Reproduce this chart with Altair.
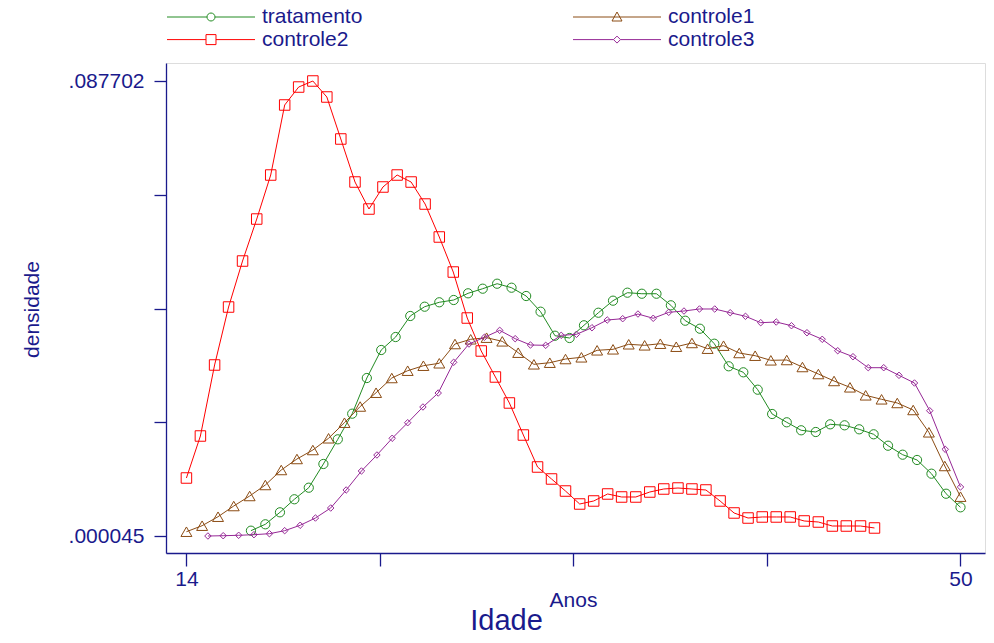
import altair as alt
import pandas as pd

# ---------------- data ----------------
# order as listed in the legend (column by column)
series_names = ["tratamento", "controle2", "controle1", "controle3"]
series_colors = ["#228b22", "#ff0000", "#8b4c14", "#962896"]

x_tratamento = [17.00, 17.67, 18.35, 19.02, 19.69, 20.37, 21.04, 21.71, 22.39, 23.06,
                23.73, 24.41, 25.08, 25.76, 26.43, 27.10, 27.78, 28.45, 29.12, 29.80,
                30.47, 31.14, 31.82, 32.49, 33.16, 33.84, 34.51, 35.18, 35.86, 36.53,
                37.20, 37.88, 38.55, 39.22, 39.90, 40.57, 41.24, 41.92, 42.59, 43.27,
                43.94, 44.61, 45.29, 45.96, 46.63, 47.31, 47.98, 48.65, 49.33, 50.00]
y_tratamento = [0.00107, 0.00230, 0.00461, 0.00712, 0.00935, 0.01392, 0.01867, 0.02361, 0.03048, 0.03588,
                0.03838, 0.04243, 0.04422, 0.04507, 0.04551, 0.04680, 0.04769, 0.04865, 0.04788, 0.04628,
                0.04326, 0.03863, 0.03819, 0.04064, 0.04306, 0.04538, 0.04692, 0.04672, 0.04672, 0.04449,
                0.04152, 0.03998, 0.03709, 0.03274, 0.03158, 0.02823, 0.02355, 0.02195, 0.02041, 0.02008,
                0.02156, 0.02137, 0.02060, 0.01964, 0.01744, 0.01571, 0.01469, 0.01205, 0.00819, 0.00557]

x_controle1 = [14.00, 14.73, 15.47, 16.20, 16.94, 17.67, 18.41, 19.14, 19.88, 20.61,
               21.35, 22.08, 22.82, 23.55, 24.29, 25.02, 25.76, 26.49, 27.22, 27.96,
               28.69, 29.43, 30.16, 30.90, 31.63, 32.37, 33.10, 33.84, 34.57, 35.31,
               36.04, 36.78, 37.51, 38.24, 38.98, 39.71, 40.45, 41.18, 41.92, 42.65,
               43.39, 44.12, 44.86, 45.59, 46.33, 47.06, 47.80, 48.53, 49.27, 50.00]
y_controle1 = [0.00087, 0.00203, 0.00376, 0.00582, 0.00775, 0.00987, 0.01276, 0.01488, 0.01661, 0.01887,
               0.02187, 0.02499, 0.02765, 0.03048, 0.03189, 0.03285, 0.03332, 0.03703, 0.03794, 0.03825,
               0.03755, 0.03536, 0.03312, 0.03343, 0.03414, 0.03447, 0.03582, 0.03601, 0.03698, 0.03678,
               0.03709, 0.03651, 0.03723, 0.03613, 0.03671, 0.03530, 0.03478, 0.03389, 0.03395, 0.03260,
               0.03125, 0.02991, 0.02869, 0.02715, 0.02638, 0.02567, 0.02432, 0.02002, 0.01353, 0.00762]

x_controle2 = [14.00, 14.65, 15.31, 15.96, 16.61, 17.27, 17.92, 18.57, 19.22, 19.88,
               20.53, 21.18, 21.84, 22.49, 23.14, 23.80, 24.45, 25.10, 25.76, 26.41,
               27.06, 27.71, 28.37, 29.02, 29.67, 30.33, 30.98, 31.63, 32.29, 32.94,
               33.59, 34.24, 34.90, 35.55, 36.20, 36.86, 37.51, 38.16, 38.82, 39.47,
               40.12, 40.78, 41.43, 42.08, 42.73, 43.39, 44.04, 44.69, 45.35, 46.00]
y_controle2 = [0.01122, 0.01931, 0.03299, 0.04416, 0.05302, 0.06111, 0.06959, 0.08308, 0.08654, 0.087702,
               0.08462, 0.07653, 0.06824, 0.06304, 0.06728, 0.06959, 0.06824, 0.06400, 0.05765, 0.05090,
               0.04204, 0.03569, 0.03068, 0.02567, 0.01950, 0.01334, 0.01103, 0.00871, 0.00621, 0.00679,
               0.00814, 0.00756, 0.00756, 0.00852, 0.00910, 0.00929, 0.00910, 0.00891, 0.00679, 0.00448,
               0.00351, 0.00371, 0.00371, 0.00371, 0.00294, 0.00274, 0.00197, 0.00197, 0.00197, 0.00159]

x_controle3 = [15.00, 15.71, 16.43, 17.14, 17.86, 18.57, 19.29, 20.00, 20.71, 21.43,
               22.14, 22.86, 23.57, 24.29, 25.00, 25.71, 26.43, 27.14, 27.86, 28.57,
               29.29, 30.00, 30.71, 31.43, 32.14, 32.86, 33.57, 34.29, 35.00, 35.71,
               36.43, 37.14, 37.86, 38.57, 39.29, 40.00, 40.71, 41.43, 42.14, 42.86,
               43.57, 44.29, 45.00, 45.71, 46.43, 47.14, 47.86, 48.57, 49.29, 50.00]
y_controle3 = [0.000045, 0.00010, 0.00018, 0.00030, 0.00049, 0.00107, 0.00211, 0.00351, 0.00544, 0.00891,
               0.01257, 0.01565, 0.01887, 0.02187, 0.02490, 0.02759, 0.03351, 0.03703, 0.03833, 0.03967,
               0.03806, 0.03684, 0.03678, 0.03871, 0.03890, 0.04017, 0.04166, 0.04191, 0.04281, 0.04199,
               0.04314, 0.04339, 0.04378, 0.04378, 0.04306, 0.04237, 0.04114, 0.04127, 0.04056, 0.03921,
               0.03794, 0.03574, 0.03459, 0.03247, 0.03247, 0.03100, 0.02952, 0.02418, 0.01675, 0.00949]

x_tick_values = [14, 23, 32, 41, 50]
x_tick_labels = ["14", "50"]
y_min_label, y_max_label = 0.000045, 0.087702

# ---------------- build table ----------------
rows = []
for name, xs, ys in [("tratamento", x_tratamento, y_tratamento),
                     ("controle1", x_controle1, y_controle1),
                     ("controle2", x_controle2, y_controle2),
                     ("controle3", x_controle3, y_controle3)]:
    for xv, yv in zip(xs, ys):
        rows.append({"serie": name, "idade": xv, "densidade": yv})
df = pd.DataFrame(rows)

# ---------------- styling ----------------
FONT = "Liberation Sans"
NAVY = "#1a1a8c"

step = (y_max_label - y_min_label) / 4
y_tick_values = [y_min_label + k * step for k in range(5)]
lbl_min = f"{y_min_label:.6f}".lstrip("0")
lbl_max = f"{y_max_label:.6f}".lstrip("0")

x_enc = alt.X(
    "idade:Q",
    scale=alt.Scale(domain=[13.05, 51.14], nice=False, zero=False),
    axis=alt.Axis(
        values=x_tick_values,
        labelExpr="indexof(" + str(x_tick_labels) + ", datum.label) >= 0 ? datum.label : ''",
        title="Anos", titleFont=FONT, titleFontSize=21, titleFontWeight="normal",
        titleColor=NAVY, titleX=407, titleY=53, titleBaseline="alphabetic", titleAlign="center",
        grid=False, domainColor=NAVY, domainWidth=1.3, tickColor=NAVY, tickWidth=1.3,
        tickSize=13, labelFont=FONT, labelFontSize=21, labelColor=NAVY, labelPadding=2,
        labelFlush=False, labelOverlap=False,
    ),
)
y_enc = alt.Y(
    "densidade:Q",
    scale=alt.Scale(domain=[-0.00323, 0.09117], nice=False, zero=False),
    axis=alt.Axis(
        values=y_tick_values,
        labelExpr=f"datum.value < {y_min_label + step / 2} ? '{lbl_min}' : (datum.value > {y_max_label - step / 2} ? '{lbl_max}' : '')",
        title="densidade", titleFont=FONT, titleFontSize=21, titleFontWeight="normal",
        titleColor=NAVY, titleAngle=270, titleX=-128, titleY=246, titleBaseline="alphabetic",
        titleAlign="center",
        grid=False, domainColor=NAVY, domainWidth=1.3, tickColor=NAVY, tickWidth=1.3,
        tickSize=12, labelFont=FONT, labelFontSize=21, labelColor=NAVY, labelPadding=10,
        labelFlush=False, labelOverlap=False,
    ),
)

color_scale = alt.Scale(domain=series_names, range=series_colors)

# marker shapes / sizes in the plot
marker = {
    "tratamento": ("circle", 85),
    "controle1": ("triangle-up", 120),
    "controle2": ("square", 110),
    "controle3": ("diamond", 42),
}

# legend symbols: line with marker (SVG paths in unit coords, scaled by sqrt(size)/2)
r_c, r_s, r_d = 0.0909, 0.1136, 0.0795
path_by_series = {
    "tratamento": f"M-1,0H-{r_c}M{r_c},0H1M{r_c},0A{r_c},{r_c},0,1,1,-{r_c},0A{r_c},{r_c},0,1,1,{r_c},0Z",
    "controle1": "M-1,0H1M0,-0.1136L-0.1136,0.0909L0.1136,0.0909Z",
    "controle2": f"M-1,0H-{r_s}M{r_s},0H1M-{r_s},-{r_s}H{r_s}V{r_s}H-{r_s}Z",
    "controle3": f"M-1,0H-{r_d}M{r_d},0H1M-{r_d},0L0,-{r_d}L{r_d},0L0,{r_d}Z",
}
legend_paths = [path_by_series[n] for n in series_names]

base = alt.Chart(df)

# legend layer first so that its explicit legend settings win the merge
leg = alt.Legend(
    title=None, orient="none", legendX=0.5, legendY=-57, columns=2,
    symbolSize=88 * 88, symbolStrokeWidth=1, labelFont=FONT, labelFontSize=21,
    labelColor=NAVY, labelOffset=6.5, columnPadding=210, rowPadding=0.6,
    clipHeight=22, padding=0, labelLimit=400,
)
legend_layer = base.transform_filter("false").mark_point(filled=False, strokeWidth=1, opacity=1).encode(
    x=x_enc, y=y_enc,
    color=alt.Color("serie:N", scale=color_scale, legend=leg),
    shape=alt.Shape("serie:N", scale=alt.Scale(domain=series_names, range=legend_paths), legend=leg),
)
layers = [legend_layer]

for name in ["tratamento", "controle1", "controle2", "controle3"]:
    shp, sz = marker[name]
    sub = base.transform_filter(alt.datum.serie == name)
    layers.append(
        sub.mark_line(strokeWidth=1, interpolate="linear").encode(
            x=x_enc, y=y_enc,
            color=alt.Color("serie:N", scale=color_scale, legend=None),
        )
    )
    layers.append(
        sub.mark_point(shape=shp, size=sz, filled=False, strokeWidth=1, opacity=1).encode(
            x=x_enc, y=y_enc,
            color=alt.Color("serie:N", scale=color_scale, legend=None),
        )
    )

chart = alt.layer(*layers).properties(
    width=819, height=490,
    padding={"left": 166, "top": 63, "right": 9, "bottom": 90},
    autosize=alt.AutoSizeParams(type="none"),
    title=alt.TitleParams(
        text="Idade", orient="bottom", anchor="middle", frame="group", dx=-69, offset=-3,
        font=FONT, fontSize=29, fontWeight="normal", color=NAVY,
    ),
).configure_view(stroke=None, strokeWidth=0).configure(background="white")

chart.save("out.html", embed_options={"renderer": "svg", "actions": False})
